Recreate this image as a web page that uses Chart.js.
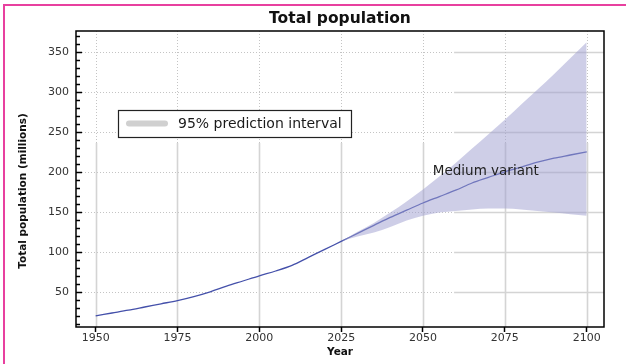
<!DOCTYPE html>
<html><head><meta charset="utf-8">
<script src="https://cdn.jsdelivr.net/npm/chart.js@4/dist/chart.umd.min.js"></script>
<style>html,body{margin:0;padding:0;background:#fff;}canvas{display:block}</style>
</head><body>
<canvas id="c" width="626" height="364"></canvas>
<script>
// ---- data ----
const years = [1950,1955,1960,1965,1970,1975,1980,1985,1990,1995,2000,2005,2010,2015,2020,2025,2030,2035,2040,2045,2050,2055,2060,2065,2070,2075,2080,2085,2090,2095,2100];
const mediumVariant = [20,23.5,27,31,35,39,44,50,57,63.5,70,76,83,93,103,113,123,133,143,152,161,169,177,186,193,200,206,212,217,221,225];
const projYears = [2025,2030,2035,2040,2045,2050,2055,2060,2065,2070,2075,2080,2085,2090,2095,2100];
const upper95 = [113,125,136,149,163,178,194,211,229,247,265,284,303,322,342,362];
const lower95 = [113,119,124,131,139,145,149,151,153,154,154,153,151,149,147,145];
const xTickLabels = [1950,1975,2000,2025,2050,2075,2100];
const yTickLabels = [50,100,150,200,250,300,350];
const titleText = 'Total population';
const yTitleText = 'Total population (millions)';
const xTitleText = 'Year';
const legendText = '95% prediction interval';
const annotationText = 'Medium variant';

// ---- styles ----
const FONT = '"DejaVu Sans", sans-serif';
const BAND = 'rgba(158,158,208,0.5)';
const LINE = '#4450aa';

const pts = (xs, ys) => xs.map((v, i) => ({x: v, y: ys[i]}));

const decor = {
  id: 'decor',
  beforeDatasetsDraw(chart) {
    const {ctx, chartArea: a, scales: {x, y}} = chart;
    const splitX = x.getPixelForValue(2059.5);
    const splitY = y.getPixelForValue(236);
    ctx.save();
    yTickLabels.forEach(v => {
      const py = Math.round(y.getPixelForValue(v)) + 0.5;
      ctx.beginPath(); ctx.setLineDash([1, 2]); ctx.strokeStyle = '#c4c4c4'; ctx.lineWidth = 1;
      ctx.moveTo(a.left, py); ctx.lineTo(splitX, py); ctx.stroke();
      ctx.beginPath(); ctx.setLineDash([]); ctx.strokeStyle = '#d4d4d4'; ctx.lineWidth = 1.6;
      ctx.moveTo(splitX, py); ctx.lineTo(a.right, py); ctx.stroke();
    });
    xTickLabels.forEach(v => {
      const px = Math.round(x.getPixelForValue(v)) + 0.5;
      ctx.beginPath(); ctx.setLineDash([1, 2]); ctx.strokeStyle = '#c4c4c4'; ctx.lineWidth = 1;
      ctx.moveTo(px, a.top); ctx.lineTo(px, splitY); ctx.stroke();
      ctx.beginPath(); ctx.setLineDash([]); ctx.strokeStyle = '#d4d4d4'; ctx.lineWidth = 1.6;
      ctx.moveTo(px, splitY); ctx.lineTo(px, a.bottom); ctx.stroke();
    });
    ctx.restore();
  },
  afterDatasetsDraw(chart) {
    const {ctx, chartArea: a, scales: {y}} = chart;
    ctx.save();
    ctx.strokeStyle = '#000'; ctx.lineWidth = 1.5;
    for (let v = 10; v < y.max; v += 10) {
      const py = Math.round(y.getPixelForValue(v)) + 0.5;
      const len = v % 50 === 0 ? 6 : 4;
      ctx.beginPath(); ctx.moveTo(a.left, py); ctx.lineTo(a.left + len, py); ctx.stroke();
    }
    ctx.strokeRect(a.left, a.top, a.right - a.left, a.bottom - a.top);
    ctx.restore();
  },
  afterDraw(chart) {
    const {ctx, chartArea: a, scales: {x, y}} = chart;
    ctx.save();
    // legend box
    const lx = a.left + 42, ly = a.top + 79, lw = 233, lh = 27;
    ctx.fillStyle = '#fff'; ctx.fillRect(lx, ly, lw, lh);
    ctx.strokeStyle = '#222'; ctx.lineWidth = 1.2; ctx.strokeRect(lx + 0.5, ly + 0.5, lw, lh);
    ctx.beginPath(); ctx.lineCap = 'round'; ctx.strokeStyle = '#d0d0d0'; ctx.lineWidth = 6;
    ctx.moveTo(lx + 11, ly + 13.5); ctx.lineTo(lx + 47, ly + 13.5); ctx.stroke();
    ctx.fillStyle = '#1a1a1a'; ctx.font = '14px ' + FONT; ctx.textBaseline = 'middle'; ctx.textAlign = 'left';
    ctx.fillText(legendText, lx + 60, ly + 14);
    // annotation
    ctx.font = '13.5px ' + FONT; ctx.fillStyle = '#222';
    ctx.fillText(annotationText, x.getPixelForValue(2053), y.getPixelForValue(200));
    // y axis title
    ctx.save();
    ctx.translate(23, (a.top + a.bottom) / 2 + 12);
    ctx.rotate(-Math.PI / 2);
    ctx.font = 'bold 10.5px ' + FONT; ctx.textAlign = 'center'; ctx.fillStyle = '#111';
    ctx.fillText(yTitleText, 0, 0);
    ctx.restore();
    // pink frame
    ctx.strokeStyle = '#e8409f'; ctx.lineWidth = 2; ctx.lineCap = 'butt';
    ctx.beginPath(); ctx.moveTo(4, 364); ctx.lineTo(4, 5); ctx.lineTo(626, 5); ctx.stroke();
    ctx.restore();
  }
};

new Chart(document.getElementById('c'), {
  type: 'line',
  data: {
    datasets: [
      { label: 'lower', data: pts(projYears, lower95), borderColor: 'rgba(0,0,0,0)', borderWidth: 0, pointRadius: 0, fill: false, cubicInterpolationMode: 'monotone' },
      { label: legendText, data: pts(projYears, upper95), borderColor: 'rgba(0,0,0,0)', borderWidth: 0, pointRadius: 0, backgroundColor: BAND, fill: '-1', cubicInterpolationMode: 'monotone' },
      { label: annotationText, data: pts(years, mediumVariant), borderColor: LINE, borderWidth: 1.3, pointRadius: 0, fill: false, cubicInterpolationMode: 'monotone' }
    ]
  },
  options: {
    responsive: false,
    animation: false,
    events: [],
    layout: { padding: { left: 0, right: 22, top: 0, bottom: 0 } },
    plugins: {
      legend: { display: false },
      tooltip: { enabled: false },
      title: {
        display: true, text: titleText, fullSize: false, color: '#111',
        font: { family: FONT, size: 15.5, weight: 'bold' },
        padding: { top: 10, bottom: 2.4 }
      }
    },
    scales: {
      x: {
        type: 'linear', min: 1944, max: 2105.3,
        afterBuildTicks: s => { s.ticks = xTickLabels.map(v => ({value: v})); },
        afterFit: s => { s.height = 37; },
        ticks: { callback: v => String(v), color: '#333', font: { family: FONT, size: 11 }, padding: 0, maxRotation: 0, autoSkip: false },
        grid: { drawOnChartArea: false, drawTicks: true, tickLength: 5, tickWidth: 1.5, tickColor: '#000', color: '#000' },
        border: { display: false },
        title: { display: true, text: xTitleText, color: '#111', font: { family: FONT, size: 10.5, weight: 'bold' }, padding: { top: 0, bottom: 5.5 } }
      },
      y: {
        type: 'linear', min: 6, max: 376,
        afterBuildTicks: s => { s.ticks = yTickLabels.map(v => ({value: v})); },
        afterFit: s => { s.width = 76; },
        ticks: { callback: v => String(v), color: '#333', font: { family: FONT, size: 11 }, padding: 7 },
        grid: { drawOnChartArea: false, drawTicks: false },
        border: { display: false }
      }
    }
  },
  plugins: [decor]
});
</script>
</body></html>
